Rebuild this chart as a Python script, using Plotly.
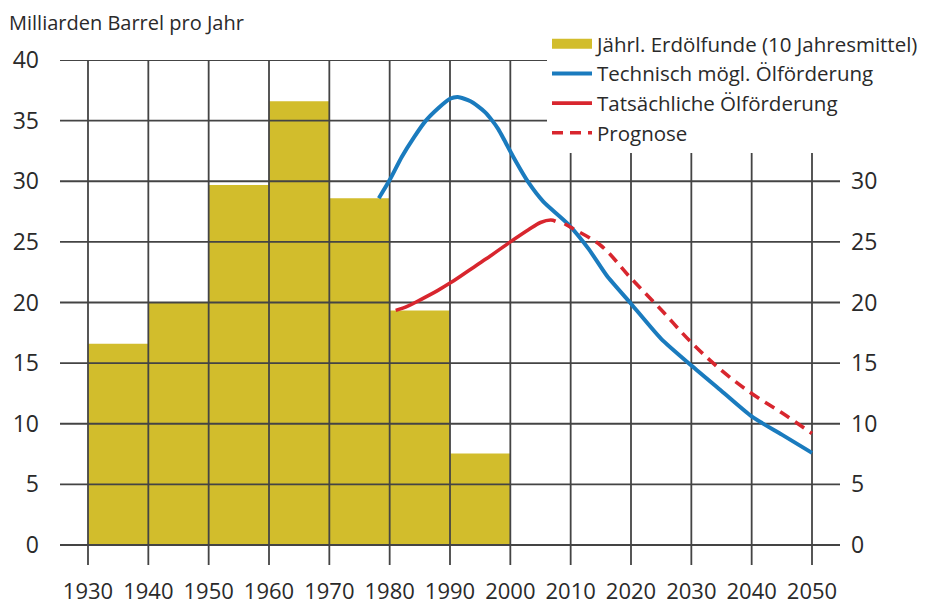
import plotly.graph_objects as go

# ---- data ----
decades = [1935, 1945, 1955, 1965, 1975, 1985, 1995]
finds = [16.6, 20.0, 29.7, 36.6, 28.6, 19.35, 7.55]

tech_years = [1978.2, 1980, 1982, 1984, 1986, 1988, 1990, 1991.3, 1993.4, 1994.6, 1995.8, 1997,
              1998, 1999, 2000.5, 2003, 2005.5, 2009.5, 2013, 2016, 2020, 2025, 2030, 2035,
              2040, 2045, 2050]
tech_vals = [28.6, 30.1, 32.0, 33.6, 35.0, 36.0, 36.8, 36.95, 36.6, 36.2, 35.7, 35.0,
             34.3, 33.4, 32.0, 29.9, 28.3, 26.5, 24.4, 22.2, 19.9, 17.0, 14.8, 12.7,
             10.6, 9.1, 7.6]

act_years = [1981, 1983, 1985, 1988, 1990, 1993, 1996, 2000, 2003, 2005, 2006.7, 2007.5]
act_vals = [19.35, 19.7, 20.2, 21.0, 21.6, 22.6, 23.6, 25.0, 26.0, 26.6, 26.8, 26.7]

prog_years = [2009, 2010, 2015, 2020, 2025, 2030, 2035, 2040, 2045, 2050]
prog_vals = [26.5, 26.2, 24.7, 22.0, 19.4, 16.7, 14.4, 12.5, 10.9, 9.2]

x_ticks = list(range(1930, 2051, 10))
y_ticks_left = list(range(0, 41, 5))
y_ticks_right = list(range(0, 31, 5))

names = ["Jährl. Erdölfunde (10 Jahresmittel)", "Technisch mögl. Ölförderung",
         "Tatsächliche Ölförderung", "Prognose"]

# ---- style ----
C_BAR = "#D2BD2C"
C_BLUE = "#1A7BBE"
C_RED = "#D8262E"
C_GRID = "#444444"
C_TEXT = "#2a2a2a"
FONT = "Open Sans"

X_RANGE = [1925.36, 2054.64]
Y_RANGE = [-1.65, 40]

W, H = 920, 596  # page body has an 8px margin

fig = go.Figure()

fig.add_trace(go.Bar(x=decades, y=finds, width=10, marker=dict(color=C_BAR, line=dict(width=0)),
                     showlegend=False, hoverinfo="skip"))

# grid drawn as a trace so it sits above the bars
gx, gy = [], []
for v in y_ticks_left:
    gx += [X_RANGE[0], X_RANGE[1], None]
    gy += [v, v, None]
for v in x_ticks:
    gx += [v, v, None]
    gy += [Y_RANGE[0], 40, None]
fig.add_trace(go.Scatter(x=gx, y=gy, mode="lines", line=dict(color=C_GRID, width=1.8),
                         showlegend=False, hoverinfo="skip", cliponaxis=False))

# legend proxy for bars
fig.add_trace(go.Scatter(x=[None], y=[None], mode="lines", name=names[0],
                         line=dict(color=C_BAR, width=16), legendgroup="a"))

fig.add_trace(go.Scatter(x=tech_years, y=tech_vals, mode="lines", name=names[1],
                         line=dict(color=C_BLUE, width=4, shape="spline", smoothing=0.6),
                         legendgroup="b"))
fig.add_trace(go.Scatter(x=act_years, y=act_vals, mode="lines", name=names[2],
                         line=dict(color=C_RED, width=3.6, shape="spline", smoothing=1.0),
                         legendgroup="c"))
fig.add_trace(go.Scatter(x=prog_years, y=prog_vals, mode="lines", name=names[3],
                         line=dict(color=C_RED, width=3.6, dash="11px,7px", shape="spline", smoothing=1.0),
                         legendgroup="d"))

# right axis dummy trace
fig.add_trace(go.Scatter(x=[None], y=[None], yaxis="y2", showlegend=False, hoverinfo="skip"))

fig.update_layout(
    width=W, height=H,
    margin=dict(l=52, r=88, t=52, b=39, autoexpand=False),
    paper_bgcolor="white", plot_bgcolor="white",
    font=dict(family=FONT, color=C_TEXT),
    title=dict(text="Milliarden Barrel pro Jahr", x=1/W, xanchor="left", xref="container",
               y=1-8/H, yanchor="top", yref="container", font=dict(size=20, color=C_TEXT)),
    xaxis=dict(range=X_RANGE, tickvals=x_ticks, showgrid=False, zeroline=False, showline=False,
               ticks="", tickfont=dict(size=22), ticklabelstandoff=11, automargin=False),
    yaxis=dict(range=Y_RANGE, tickvals=y_ticks_left, showgrid=False, zeroline=False, showline=False,
               ticks="", tickfont=dict(size=23), ticklabelstandoff=20, automargin=False),
    yaxis2=dict(range=Y_RANGE, tickvals=y_ticks_right, overlaying="y", side="right",
                showgrid=False, zeroline=False, showline=False, ticks="",
                tickfont=dict(size=23), ticklabelstandoff=10, automargin=False),
    legend=dict(x=(539-52)/780, xanchor="left", y=1+36/505, yanchor="top", bgcolor="white",
                font=dict(size=20.5, color=C_TEXT), traceorder="grouped", tracegroupgap=0,
                itemwidth=40),
    showlegend=True,
)

fig.write_html("out.html")
